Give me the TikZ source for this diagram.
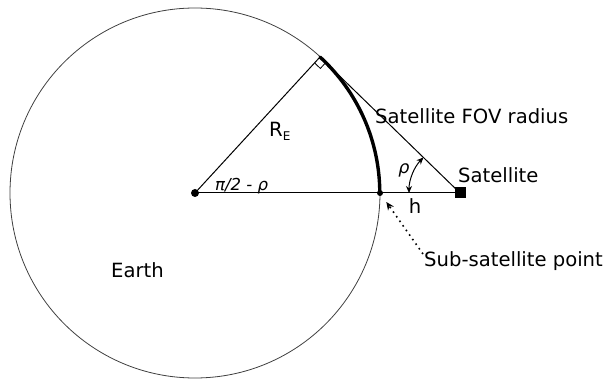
\documentclass[tikz,border=0pt]{standalone}
\usepackage{fontspec}
\setmainfont{DejaVu Sans}
\usetikzlibrary{arrows.meta,calc}
\begin{document}
\begin{tikzpicture}[x=1pt,y=-1pt,
  lbl/.style={font=\fontsize{19.6}{22}\selectfont, inner sep=0pt},
  thin line/.style={line width=1pt},
  rhotip/.tip={Stealth[length=7pt,width=6pt]}]
\useasboundingbox (0,0) rectangle (603,379);
\coordinate (O) at (195,193);
\coordinate (S) at (460,193);
\coordinate (P) at (380,193);
\coordinate (T) at (320,57);
\coordinate (subtail) at (423,254);
% Earth
\draw[black!75, line width=0.8pt] (O) circle (185pt);
% thick arc
\draw[line width=3.4pt, line cap=round] (T) arc[start angle=47.4, end angle=0, radius=185pt];
% lines
\draw[thin line] (O) -- (T) -- (S);
\draw[thin line] (O) -- (S);
% right angle mark
\draw[line width=0.8pt] ($(T)!8pt!(O)$) -- ++($(T)!8pt!(S)-(T)$) -- ($(T)!8pt!(S)$);
% rho arrow
\draw[line width=1pt, rhotip-rhotip] ([shift={(180:51pt)}]S) arc[start angle=180, end angle=135.8, radius=51pt];
% sub-satellite arrow
\draw[line width=1.6pt, dash pattern=on 1.6pt off 4pt, -{Stealth[length=8pt,width=7pt]}, shorten >=11pt] (subtail) -- (P);
% markers
\fill (O) circle (4pt);
\fill (P) circle (3pt);
\fill ($(S)+(-5.5,-5.5)$) rectangle ($(S)+(5.5,5.5)$);
% labels
\node[lbl, anchor=base west] (fov) at (375,124) {Satellite FOV radius};
\node[lbl, anchor=base west] (sat) at (458,183) {Satellite};
\node[lbl, anchor=base west] (earth) at (111,278) {Earth};
\node[lbl, anchor=base west] (sub) at (424,267) {Sub-satellite point};
\node[lbl, anchor=base] (h) at (415,214) {h};
\node[lbl, anchor=base west] (re) at (269,137) {R\raisebox{-4pt}{\fontsize{12}{12}\selectfont E}};
\node[anchor=base west, inner sep=0pt, font=\fontsize{16.5}{18}\selectfont\itshape] (ang) at (215,191) {π/2 - ρ};
\node[anchor=center, inner sep=0pt, font=\fontsize{17.5}{18}\selectfont\itshape] (rho) at (404,170) {ρ};
\end{tikzpicture}
\end{document}
